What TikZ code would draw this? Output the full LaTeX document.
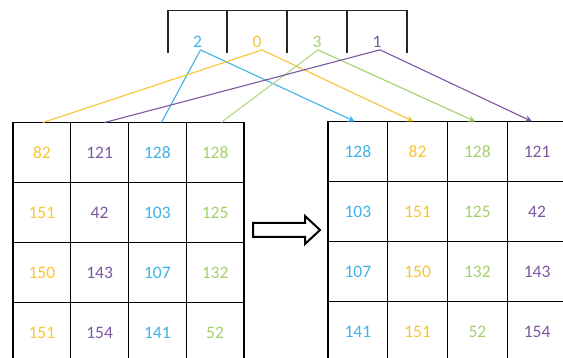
\documentclass[tikz,border=0pt]{standalone}
\usepackage{fontspec}
\setmainfont{Carlito}
\usepackage{tikz}
\usetikzlibrary{arrows.meta,positioning}
\definecolor{cblue}{HTML}{3FB2E6}
\definecolor{cyel}{HTML}{F7C531}
\definecolor{cgrn}{HTML}{A4D06C}
\definecolor{cpur}{HTML}{7D579F}
\tikzset{
  cell/.style={draw=black,line width=1.1pt,outer sep=0pt,inner sep=0pt,
    minimum width=57.75pt,minimum height=60pt,font=\fontsize{17.5}{20}\selectfont},
  rcell/.style={cell,minimum width=59.75pt},
  lbl/.style={inner sep=1pt,font=\fontsize{17.5}{20}\selectfont},
  ln/.style={line width=1.1pt},
  ar/.style={-{Stealth[length=7pt,width=6.5pt]},line width=1.1pt}
}
\begin{document}
\begin{tikzpicture}[x=1pt,y=-1pt]
\useasboundingbox (0,0) rectangle (563,358);
% open box with the permutation
\draw[line width=1.2pt,black!85] (168,53) -- (168,10.5) -- (407,10.5) -- (407,53);
\foreach \x in {227,287,347}
  \draw[line width=1.2pt,black!85] (\x,10.5) -- (\x,53);
\node[lbl,cblue] (n2) at (197.5,42) {2};
\node[lbl,cyel] (n0) at (257,42) {0};
\node[lbl,cgrn] (n3) at (317,42) {3};
\node[lbl,cpur] (n1) at (377,42) {1};
% left grid
\foreach \r/\a/\b/\c/\d in {1/82/121/128/128,2/151/42/103/125,3/150/143/107/132,4/151/154/141/52}{
  \node[cell,text=cyel] (L\r1) at (41.9,{122.5+60*(\r-0.5)}) {\a};
  \node[cell,text=cpur] (L\r2) at (99.6,{122.5+60*(\r-0.5)}) {\b};
  \node[cell,text=cblue] (L\r3) at (157.4,{122.5+60*(\r-0.5)}) {\c};
  \node[cell,text=cgrn] (L\r4) at (215.1,{122.5+60*(\r-0.5)}) {\d};
}
% right grid
\foreach \r/\a/\b/\c/\d in {1/128/82/128/121,2/103/151/125/42,3/107/150/132/143,4/141/151/52/154}{
  \node[rcell,text=cblue] (R\r1) at (357.9,{121.5+60*(\r-0.5)}) {\a};
  \node[rcell,text=cyel] (R\r2) at (417.6,{121.5+60*(\r-0.5)}) {\b};
  \node[rcell,text=cgrn] (R\r3) at (477.4,{121.5+60*(\r-0.5)}) {\c};
  \node[rcell,text=cpur] (R\r4) at (537.1,{121.5+60*(\r-0.5)}) {\d};
}
% connectors
\draw[ln,cblue] ([xshift=4pt]L13.north) -- ([shift={(3pt,-1pt)}]n2.south);
\draw[ar,cblue] ([shift={(3pt,-1pt)}]n2.south) -- ([xshift=-3pt]R11.north);
\draw[ln,cyel] ([xshift=1pt]L11.north) -- ([shift={(5pt,-1pt)}]n0.south);
\draw[ar,cyel] ([shift={(5pt,-1pt)}]n0.south) -- ([xshift=-4pt]R12.north);
\draw[ln,cgrn!85] ([xshift=6pt]L14.north) -- ([shift={(1pt,-1pt)}]n3.south);
\draw[ar,cgrn] ([shift={(1pt,-1pt)}]n3.south) -- ([xshift=-2pt]R13.north);
\draw[ln,cpur] ([xshift=5pt]L12.north) -- ([shift={(3pt,-1pt)}]n1.south);
\draw[ar,cpur] ([shift={(3pt,-1pt)}]n1.south) -- ([xshift=-5pt]R14.north);
% hollow arrow between the grids
\draw[line width=2pt,line join=miter] (253,223) -- (305,223) -- (305,216) -- (320,230)
  -- (305,244) -- (305,237) -- (253,237) -- cycle;
\end{tikzpicture}
\end{document}
